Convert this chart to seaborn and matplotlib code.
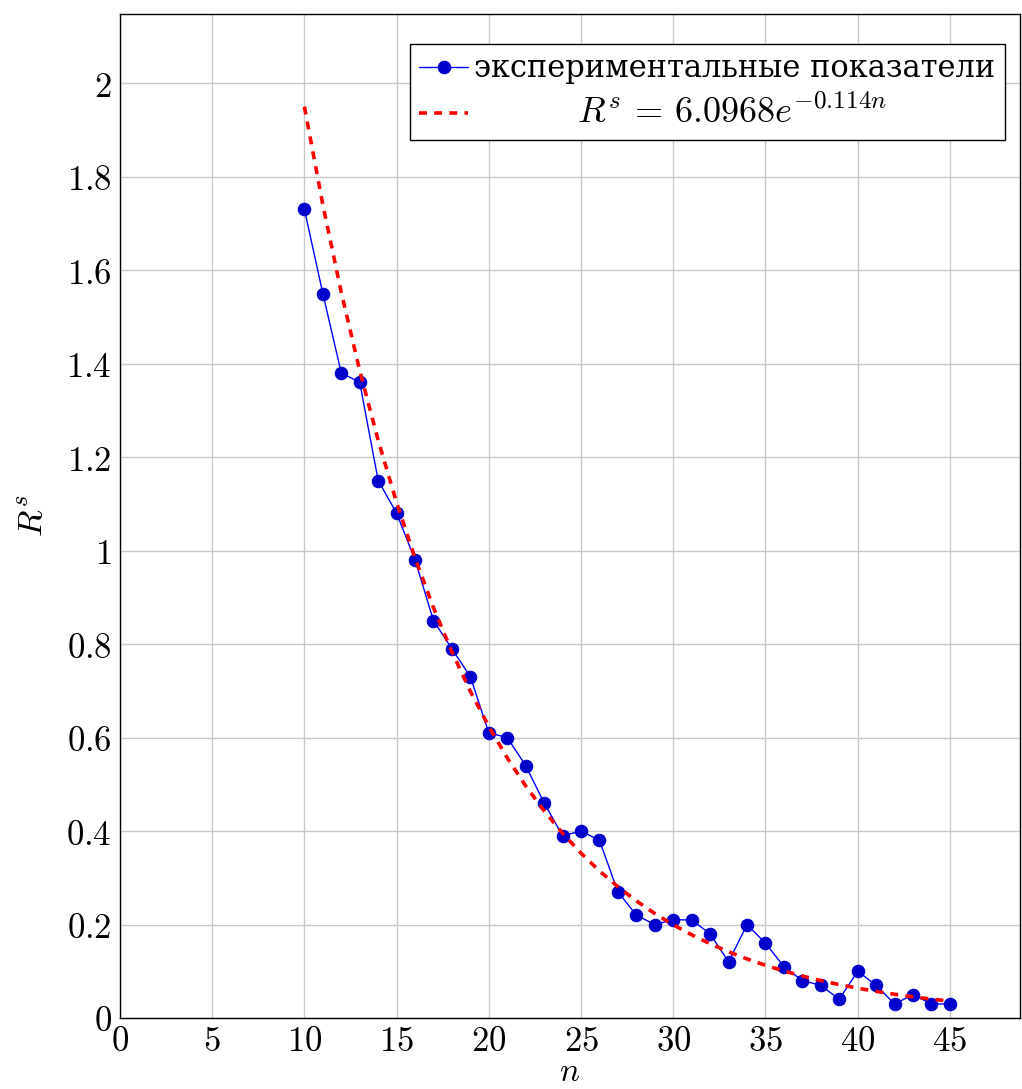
import numpy as np
import pandas as pd
import matplotlib
matplotlib.use("Agg")
import matplotlib.pyplot as plt
import seaborn as sns

# Data
n_values = list(range(10, 46))
rs_values = [1.73, 1.55, 1.38, 1.36, 1.15, 1.08, 0.98, 0.85, 0.79, 0.73,
             0.61, 0.60, 0.54, 0.46, 0.39, 0.40, 0.38, 0.27, 0.22, 0.20,
             0.21, 0.21, 0.18, 0.12, 0.20, 0.16, 0.11, 0.08, 0.07, 0.04,
             0.10, 0.07, 0.03, 0.05, 0.03, 0.03]
fit_a = 6.0968
fit_b = -0.114
x_ticks = [0, 5, 10, 15, 20, 25, 30, 35, 40, 45]
y_ticks = [0, 0.2, 0.4, 0.6, 0.8, 1, 1.2, 1.4, 1.6, 1.8, 2]
label_data = "экспериментальные показатели"
label_fit = r"$R^s\,=\,6.0968e^{-0.114n}$"

df = pd.DataFrame({"n": n_values, "Rs": rs_values})
df["fit"] = fit_a * np.exp(fit_b * df["n"])

sns.set_theme(style="whitegrid")
plt.rcParams["font.family"] = ["DejaVu Serif", "Liberation Serif"]
plt.rcParams["mathtext.fontset"] = "cm"
plt.rcParams["text.color"] = "black"
plt.rcParams["axes.labelcolor"] = "black"

fig = plt.figure(figsize=(10.22, 10.89), dpi=100)
ax = fig.add_axes([0.1174, 0.0652, 0.8806, 0.9219])

sns.lineplot(data=df, x="n", y="Rs", ax=ax, color="#0000ff", linewidth=1.0,
             marker="o", markersize=9, markerfacecolor="#0000cc",
             markeredgecolor="#0000cc", label=label_data, zorder=3)
sns.lineplot(data=df, x="n", y="fit", ax=ax, color="#ff0000", linewidth=2.6,
             linestyle=(0, (2.2, 2.0)), label="         " + label_fit, zorder=4)

ax.set_xlim(0, 48.8)
ax.set_ylim(0, 2.148)
ax.set_xticks(x_ticks)
ax.set_xticklabels([f"${t}$" for t in x_ticks])
ax.set_yticks(y_ticks)
ax.set_yticklabels([f"${t:g}$" for t in y_ticks])
ax.tick_params(axis="y", labelsize=25, length=0, pad=6, colors="black")
ax.tick_params(axis="x", labelsize=25, length=0, pad=4, colors="black")
ax.grid(True, color="#c8c8c8", linewidth=1.0)
for s in ax.spines.values():
    s.set_color("black")
    s.set_linewidth(1.0)
ax.set_facecolor("white")

ax.set_xlabel(r"$n$", fontsize=24, labelpad=-1, color="black")
ax.set_ylabel(r"$R^s$", fontsize=25, labelpad=12, color="black")

leg = ax.legend(loc="upper right", bbox_to_anchor=(0.983, 0.970),
                borderaxespad=0, prop={"family": ["DejaVu Serif"], "size": 22},
                frameon=True, fancybox=False,
                handlelength=1.6, handletextpad=0.2, borderpad=0.3,
                labelspacing=0.35)
leg.get_frame().set_edgecolor("black")
leg.get_frame().set_linewidth(1.0)
leg.get_frame().set_alpha(1)
for t in leg.get_texts():
    t.set_color("black")
    if t.get_text().strip().startswith("$"):
        t.set_fontsize(26)

fig.savefig("out.png", dpi=100)
